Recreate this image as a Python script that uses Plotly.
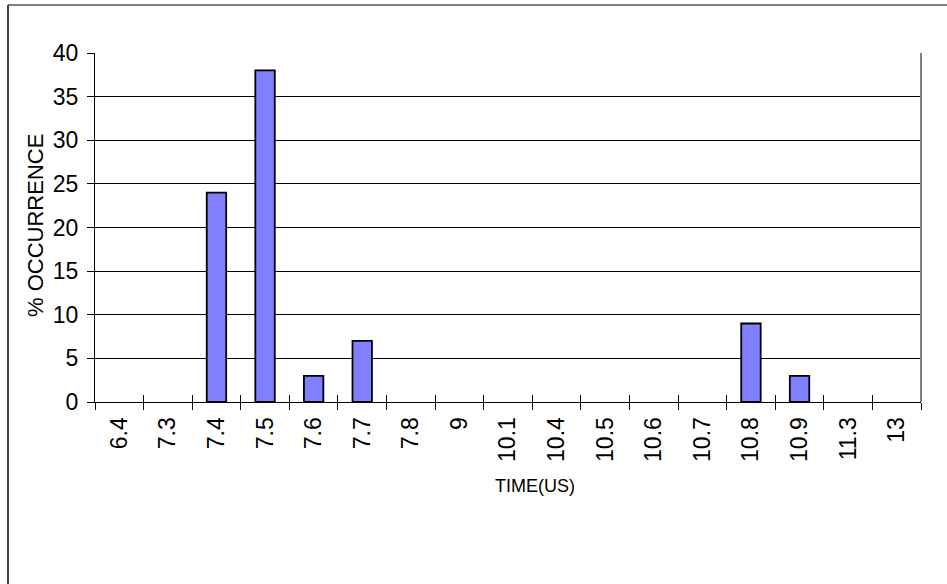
import plotly.graph_objects as go

categories = ["6.4", "7.3", "7.4", "7.5", "7.6", "7.7", "7.8", "9", "10.1", "10.4",
              "10.5", "10.6", "10.7", "10.8", "10.9", "11.3", "13"]
occurrence = [0, 0, 24, 38, 3, 7, 0, 0, 0, 0, 0, 0, 0, 9, 3, 0, 0]
y_ticks = [0, 5, 10, 15, 20, 25, 30, 35, 40]

W, H = 947, 584
L, R, T, B = 95, 921, 53, 402  # plot area in pixels

def px_x(p):
    return (p - L) / (R - L)

def px_y(p):
    return (B - p) / (B - T)

# zero-valued categories draw no bar at all
bar_values = [v if v else None for v in occurrence]
n = len(categories)
boundaries = [i - 0.5 for i in range(n + 1)]

fig = go.Figure()
fig.add_trace(go.Bar(
    x=categories, y=bar_values, width=0.4, hoverinfo="x+y",
    marker=dict(color="#8080FF", line=dict(color="#000000", width=1.8)),
))
# invisible helper trace so the overlay axis (inner half of tick marks) is drawn
fig.add_trace(go.Scatter(
    x=list(range(n)), y=bar_values, xaxis="x2", mode="none",
    hoverinfo="skip", showlegend=False,
))

font_main = "Liberation Sans, Arial, sans-serif"

fig.update_layout(
    width=W, height=H,
    margin=dict(l=L, r=W - R, t=T, b=H - B, autoexpand=False),
    paper_bgcolor="white", plot_bgcolor="white",
    showlegend=False,
    font=dict(family=font_main, color="black"),
    xaxis=dict(
        type="category", tickson="boundaries", ticks="outside", ticklen=7,
        tickcolor="black", tickwidth=1, tickangle=-90, ticklabelstandoff=5,
        tickfont=dict(size=23, family=font_main, color="black"),
        showline=True, linecolor="black", linewidth=1, showgrid=False,
        range=[-0.5, n - 0.5], automargin=False,
    ),
    xaxis2=dict(
        overlaying="x", anchor="y", side="bottom", type="linear",
        range=[-0.5, n - 0.5], tickvals=boundaries, ticks="inside", ticklen=7,
        tickcolor="black", tickwidth=1, showticklabels=False,
        showgrid=False, showline=False, zeroline=False, automargin=False,
    ),
    yaxis=dict(
        range=[0, 40], tickvals=y_ticks, ticks="outside", ticklen=7,
        tickcolor="black", tickwidth=1, ticklabelstandoff=4,
        tickfont=dict(size=23, family=font_main, color="black"),
        showline=True, linecolor="black", linewidth=1,
        showgrid=True, gridcolor="black", gridwidth=1, zeroline=False,
        automargin=False,
    ),
    shapes=[
        dict(type="line", xref="paper", yref="paper", x0=1, x1=1, y0=0, y1=1,
             line=dict(color="#808080", width=2)),
        dict(type="line", xref="paper", yref="paper",
             x0=px_x(8), x1=px_x(950), y0=px_y(5), y1=px_y(5),
             line=dict(color="#7f7f7f", width=2)),
        dict(type="line", xref="paper", yref="paper",
             x0=px_x(8), x1=px_x(8), y0=px_y(5), y1=px_y(590),
             line=dict(color="#404040", width=2)),
    ],
    annotations=[
        dict(text="% OCCURRENCE", xref="paper", yref="paper",
             x=px_x(35), y=px_y(226), textangle=-90, showarrow=False,
             xanchor="center", yanchor="middle",
             font=dict(size=22, family=font_main, color="black")),
        dict(text="TIME(US)", xref="paper", yref="paper",
             x=px_x(535), y=px_y(486), showarrow=False,
             xanchor="center", yanchor="middle",
             font=dict(size=18, family=font_main, color="black")),
    ],
)

fig.write_html("out.html", config={"displayModeBar": False},
               post_script="document.body.style.margin='0px';")
